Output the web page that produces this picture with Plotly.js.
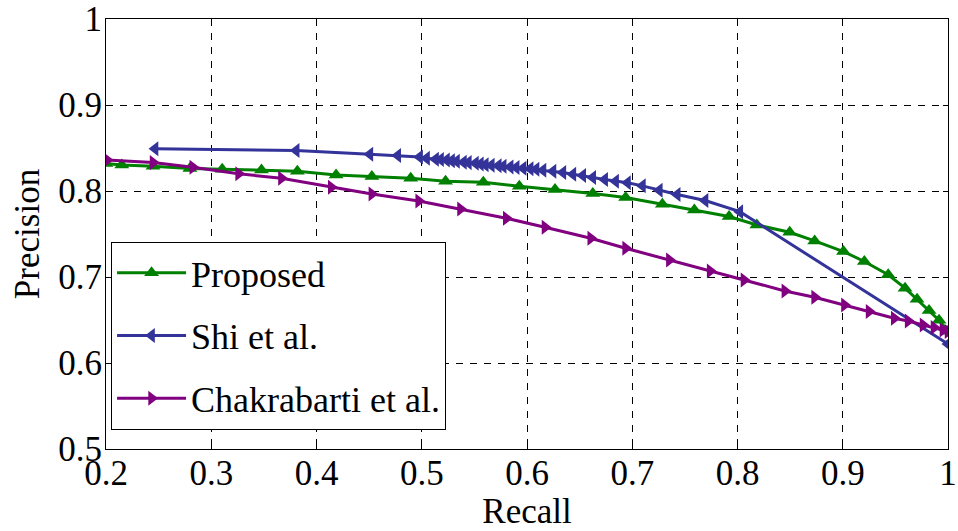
<!DOCTYPE html>
<html>
<head>
<meta charset="utf-8">
<script src="https://cdn.plot.ly/plotly-3.0.1.min.js"></script>
<style>html,body{margin:0;padding:0;background:#fff;}#chart{width:958px;height:531px;}</style>
</head>
<body>
<div id="chart"></div>
<script>
// Proposed
var proposedRecall = [0.200, 0.215, 0.2447, 0.2797, 0.3104, 0.3477, 0.3818, 0.4186, 0.4526, 0.4895, 0.5226, 0.5585, 0.5927, 0.6266, 0.6625, 0.6937, 0.7286, 0.7590, 0.7920, 0.8184, 0.8496, 0.8733, 0.9007, 0.9205, 0.9432, 0.9592, 0.9706, 0.9820, 0.9915, 1.000];
var proposedPrecision = [0.832, 0.8303, 0.8287, 0.8262, 0.8254, 0.8244, 0.8230, 0.8186, 0.8170, 0.8148, 0.8113, 0.8101, 0.8055, 0.8017, 0.7970, 0.7925, 0.7846, 0.7780, 0.7703, 0.7605, 0.7520, 0.7420, 0.7296, 0.7180, 0.7026, 0.6870, 0.6740, 0.6610, 0.6497, 0.6370];

// Shi et al.
var shiRecall = [0.2466, 0.3807, 0.4507, 0.4772, 0.4980, 0.5046, 0.5131, 0.5179, 0.5235, 0.5283, 0.5330, 0.5396, 0.5443, 0.5510, 0.5557, 0.5604, 0.5661, 0.5727, 0.5774, 0.5840, 0.5897, 0.5963, 0.6030, 0.6086, 0.6152, 0.6247, 0.6341, 0.6436, 0.6530, 0.6625, 0.6738, 0.6842, 0.6955, 0.7097, 0.7257, 0.7427, 0.7692, 0.8022, 1.000];
var shiPrecision = [0.849, 0.847, 0.8427, 0.8412, 0.8396, 0.838, 0.837, 0.8365, 0.836, 0.8352, 0.8346, 0.8334, 0.833, 0.8322, 0.8314, 0.8306, 0.8299, 0.8293, 0.8287, 0.828, 0.8272, 0.8264, 0.8258, 0.8253, 0.824, 0.823, 0.8216, 0.8195, 0.818, 0.8157, 0.8133, 0.8114, 0.8095, 0.806, 0.801, 0.796, 0.789, 0.776, 0.622];

// Chakrabarti et al.
var chakRecall = [0.201, 0.2447, 0.2825, 0.326, 0.3667, 0.414, 0.4526, 0.4971, 0.5368, 0.5803, 0.6171, 0.6606, 0.6937, 0.7353, 0.774, 0.8062, 0.845, 0.8733, 0.9016, 0.925, 0.9489, 0.9621, 0.9763, 0.9867, 0.9952, 1.000];
var chakPrecision = [0.836, 0.833, 0.8276, 0.820, 0.8148, 0.8043, 0.7965, 0.7884, 0.779, 0.7683, 0.7578, 0.745, 0.7334, 0.7198, 0.707, 0.6965, 0.6838, 0.6764, 0.6675, 0.6598, 0.652, 0.6489, 0.6442, 0.6412, 0.6384, 0.6365];

var seriesNames = ["Proposed", "Shi et al.", "Chakrabarti et al."];
var xTitle = "Recall";
var yTitle = "Precision";
var xTickVals = [0.2, 0.3, 0.4, 0.5, 0.6, 0.7, 0.8, 0.9, 1.0];
var xTickText = ["0.2", "0.3", "0.4", "0.5", "0.6", "0.7", "0.8", "0.9", "1"];
var yTickVals = [0.5, 0.6, 0.7, 0.8, 0.9, 1.0];
var yTickText = ["0.5", "0.6", "0.7", "0.8", "0.9", "1"];

var FONT = "Liberation Serif, Times New Roman, serif";
var FS = 35;
var FS_LEGEND = 36;

function tr(x, y, name, color, symbol, grp) {
  return {
    x: x, y: y, name: name, type: "scatter", mode: "lines+markers",
    legendgroup: grp,
    line: {color: color, width: 3},
    marker: {color: color, symbol: symbol, size: 13},
    cliponaxis: true
  };
}

var data = [
  tr(proposedRecall, proposedPrecision, seriesNames[0], "rgb(0,128,0)", "triangle-up", "a"),
  tr(shiRecall, shiPrecision, seriesNames[1], "rgb(51,51,153)", "triangle-left", "b"),
  tr(chakRecall, chakPrecision, seriesNames[2], "rgb(128,0,128)", "triangle-right", "c")
];

var axisCommon = {
  showline: true, linecolor: "black", linewidth: 1, mirror: "ticks",
  ticks: "inside", ticklen: 5, tickcolor: "black", tickwidth: 1,
  showgrid: true, gridcolor: "black", gridwidth: 1, griddash: "7px,7px",
  zeroline: false, tickmode: "array", ticklabeloverflow: "allow",
  tickfont: {family: FONT, size: FS, color: "black"}
};

var layout = {
  width: 958, height: 531,
  margin: {l: 106, r: 10, t: 19, b: 82},
  paper_bgcolor: "white", plot_bgcolor: "white",
  font: {family: FONT, size: FS, color: "black"},
  showlegend: true,
  legend: {
    x: 0.006, y: 0.482, xanchor: "left", yanchor: "top",
    bgcolor: "white", bordercolor: "black", borderwidth: 1,
    font: {family: FONT, size: FS_LEGEND, color: "black"},
    itemwidth: 69, tracegroupgap: 13, traceorder: "grouped"
  },
  xaxis: Object.assign({}, axisCommon, {
    range: [0.2, 1], tickvals: xTickVals, ticktext: xTickText,
    ticklabelstandoff: -7,
    title: {text: xTitle, font: {family: FONT, size: FS, color: "black"}, standoff: 20}
  }),
  yaxis: Object.assign({}, axisCommon, {
    range: [0.5, 1], tickvals: yTickVals, ticktext: yTickText,
    ticklabelstandoff: -4,
    title: {text: yTitle, font: {family: FONT, size: FS, color: "black"}, standoff: 8}
  })
};

Plotly.newPlot("chart", data, layout, {displayModeBar: false, staticPlot: true});
</script>
</body>
</html>
